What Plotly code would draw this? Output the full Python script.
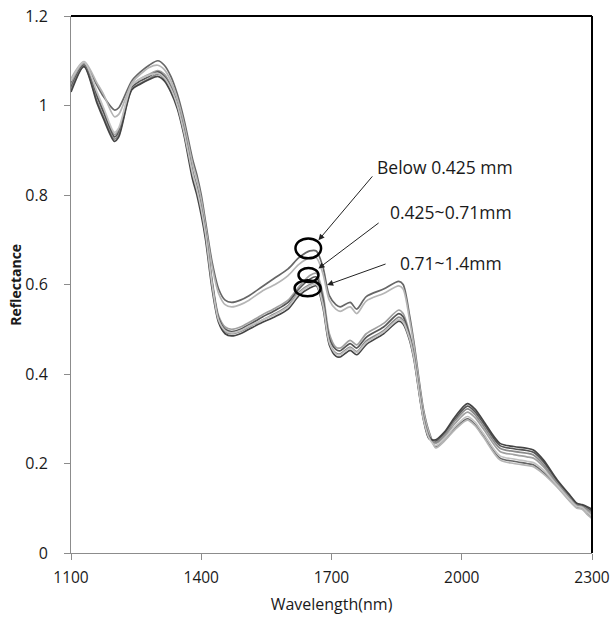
import plotly.graph_objects as go

wavelength = [1100, 1130, 1160, 1175, 1200, 1210, 1240, 1260, 1280, 1300, 1315, 1330, 1345, 1360,
              1380, 1390, 1400, 1410, 1425, 1440, 1455, 1470, 1490, 1510, 1540, 1570, 1600, 1625,
              1650, 1665, 1680, 1695, 1710, 1720, 1743, 1758, 1780, 1820, 1855, 1865, 1880, 1890,
              1912, 1925, 1940, 1960, 1985, 2013, 2030, 2050, 2088, 2120, 2150, 2165, 2188, 2220,
              2250, 2265, 2277, 2290, 2300]

# seven sample spectra
spec_a = [1.050, 1.095, 1.045, 1.020, 0.990, 0.995, 1.055, 1.075, 1.090, 1.100, 1.090, 1.065, 1.025, 0.970,
          0.880, 0.845, 0.800, 0.740, 0.650, 0.590, 0.565, 0.560, 0.565, 0.575, 0.595, 0.615, 0.635, 0.660,
          0.675, 0.675, 0.640, 0.575, 0.555, 0.550, 0.560, 0.545, 0.573, 0.590, 0.607, 0.600, 0.530, 0.470,
          0.320, 0.270, 0.237, 0.252, 0.279, 0.300, 0.288, 0.262, 0.212, 0.205, 0.200, 0.197, 0.180, 0.149,
          0.116, 0.102, 0.100, 0.087, 0.079]
spec_b = [1.060, 1.098, 1.050, 1.025, 0.975, 0.980, 1.050, 1.070, 1.085, 1.090, 1.080, 1.055, 1.015, 0.960,
          0.870, 0.835, 0.790, 0.730, 0.640, 0.580, 0.555, 0.550, 0.555, 0.565, 0.585, 0.600, 0.620, 0.645,
          0.660, 0.660, 0.625, 0.565, 0.545, 0.540, 0.550, 0.535, 0.563, 0.580, 0.597, 0.590, 0.520, 0.462,
          0.315, 0.267, 0.235, 0.250, 0.276, 0.297, 0.285, 0.259, 0.208, 0.200, 0.196, 0.193, 0.177, 0.147,
          0.114, 0.100, 0.098, 0.085, 0.077]
spec_c = [1.045, 1.093, 1.025, 0.990, 0.935, 0.945, 1.045, 1.060, 1.070, 1.078, 1.070, 1.045, 1.005, 0.950,
          0.855, 0.820, 0.775, 0.720, 0.610, 0.530, 0.505, 0.500, 0.505, 0.515, 0.532, 0.547, 0.565, 0.595,
          0.620, 0.625, 0.580, 0.490, 0.460, 0.458, 0.475, 0.465, 0.490, 0.513, 0.543, 0.535, 0.490, 0.445,
          0.305, 0.262, 0.245, 0.260, 0.290, 0.315, 0.303, 0.277, 0.227, 0.220, 0.215, 0.212, 0.193, 0.154,
          0.121, 0.106, 0.104, 0.093, 0.086]
spec_d = [1.040, 1.090, 1.020, 0.985, 0.930, 0.940, 1.040, 1.055, 1.065, 1.075, 1.065, 1.040, 1.000, 0.945,
          0.850, 0.815, 0.770, 0.715, 0.605, 0.525, 0.500, 0.495, 0.500, 0.510, 0.527, 0.542, 0.560, 0.590,
          0.612, 0.617, 0.570, 0.480, 0.455, 0.452, 0.468, 0.458, 0.482, 0.505, 0.535, 0.528, 0.485, 0.440,
          0.302, 0.260, 0.250, 0.267, 0.300, 0.328, 0.316, 0.290, 0.240, 0.233, 0.229, 0.225, 0.204, 0.160,
          0.126, 0.110, 0.107, 0.100, 0.094]
spec_e = [1.035, 1.088, 1.010, 0.975, 0.925, 0.935, 1.037, 1.050, 1.060, 1.070, 1.060, 1.035, 0.997, 0.940,
          0.845, 0.810, 0.765, 0.710, 0.600, 0.520, 0.495, 0.490, 0.495, 0.505, 0.520, 0.535, 0.553, 0.583,
          0.600, 0.605, 0.560, 0.470, 0.447, 0.445, 0.460, 0.450, 0.474, 0.497, 0.527, 0.520, 0.480, 0.437,
          0.300, 0.257, 0.247, 0.264, 0.296, 0.322, 0.310, 0.284, 0.234, 0.227, 0.223, 0.219, 0.198, 0.157,
          0.124, 0.108, 0.106, 0.097, 0.090]
spec_f = [1.030, 1.087, 1.005, 0.970, 0.920, 0.930, 1.035, 1.048, 1.058, 1.065, 1.055, 1.030, 0.993, 0.935,
          0.835, 0.800, 0.755, 0.700, 0.590, 0.515, 0.490, 0.485, 0.490, 0.500, 0.515, 0.528, 0.545, 0.575,
          0.592, 0.597, 0.550, 0.465, 0.440, 0.438, 0.453, 0.443, 0.466, 0.490, 0.518, 0.512, 0.475, 0.432,
          0.297, 0.255, 0.253, 0.270, 0.305, 0.334, 0.322, 0.295, 0.245, 0.238, 0.234, 0.230, 0.208, 0.163,
          0.128, 0.111, 0.108, 0.103, 0.098]
spec_g = [1.055, 1.097, 1.030, 0.995, 0.940, 0.950, 1.045, 1.060, 1.068, 1.072, 1.062, 1.038, 1.000, 0.942,
          0.848, 0.812, 0.768, 0.712, 0.600, 0.520, 0.497, 0.492, 0.497, 0.507, 0.520, 0.533, 0.550, 0.580,
          0.597, 0.600, 0.555, 0.470, 0.445, 0.443, 0.458, 0.448, 0.470, 0.494, 0.522, 0.516, 0.478, 0.435,
          0.298, 0.256, 0.240, 0.255, 0.283, 0.305, 0.293, 0.267, 0.217, 0.210, 0.205, 0.202, 0.185, 0.151,
          0.118, 0.104, 0.102, 0.090, 0.082]

spectra = [spec_a, spec_b, spec_c, spec_d, spec_e, spec_f, spec_g]
colors = ["#666666", "#b5b5b5", "#a0a0a0", "#555555", "#8a8a8a", "#444444", "#c2c2c2"]

x_ticks = [1100, 1400, 1700, 2000, 2300]
y_ticks = [0, 0.2, 0.4, 0.6, 0.8, 1.0, 1.2]
y_tick_text = ["0", "0.2", "0.4", "0.6", "0.8", "1", "1.2"]

labels = ["Below 0.425 mm", "0.425~0.71mm", "0.71~1.4mm"]
label_pos = [(1800, 0.863), (1831, 0.763), (1854, 0.648)]
arrow_head = [(1670, 0.699), (1670, 0.636), (1690, 0.599)]
arrow_tail = [(1797, 0.845), (1812, 0.740), (1828, 0.647)]
ellipses = [(1617, 1676, 0.6585, 0.703), (1624, 1670, 0.6056, 0.6369), (1615, 1675, 0.5736, 0.6094)]

fig = go.Figure()
for s, c in zip(spectra, colors):
    fig.add_trace(go.Scatter(x=wavelength, y=s, mode="lines",
                             line=dict(color=c, width=1.7, shape="spline", smoothing=0.8),
                             showlegend=False, hoverinfo="skip"))

font_family = "Open Sans, Noto Sans, sans-serif"
txt_color = "#1a1a1a"

for (x0, x1, y0, y1) in ellipses:
    fig.add_shape(type="circle", xref="x", yref="y", x0=x0, x1=x1, y0=y0, y1=y1,
                  line=dict(color="black", width=2.5))

for (hx, hy), (tx, ty) in zip(arrow_head, arrow_tail):
    fig.add_annotation(x=hx, y=hy, ax=tx, ay=ty, xref="x", yref="y", axref="x", ayref="y",
                       text="", showarrow=True, arrowhead=2, arrowsize=1.2, arrowwidth=1,
                       arrowcolor="#222222")

for t, (lx, ly) in zip(labels, label_pos):
    fig.add_annotation(x=lx, y=ly, xref="x", yref="y", text=t, showarrow=False,
                       xanchor="left", yanchor="middle",
                       font=dict(family=font_family, size=17.5, color=txt_color))

# y-axis title placed as rotated text
fig.add_annotation(x=-0.107, y=0.5, xref="paper", yref="paper", text="<b>Reflectance</b>",
                   showarrow=False, textangle=-90, xanchor="center", yanchor="middle",
                   font=dict(family=font_family, size=14, color=txt_color))

# frame: top and right in black
fig.add_shape(type="line", xref="paper", yref="paper", x0=0, x1=1, y0=1, y1=1,
              line=dict(color="black", width=2))
fig.add_shape(type="line", xref="paper", yref="paper", x0=1, x1=1, y0=0, y1=1,
              line=dict(color="black", width=2))

fig.update_layout(
    width=611, height=623,
    margin=dict(l=71, r=19, t=16, b=70, autoexpand=False),
    paper_bgcolor="white", plot_bgcolor="white",
    font=dict(family=font_family, color=txt_color),
    xaxis=dict(range=[1100, 2300], tickvals=x_ticks, showgrid=False, zeroline=False,
               showline=True, linecolor="#8c8c8c", linewidth=1, automargin=False,
               ticks="outside", ticklen=6, tickcolor="#8c8c8c", ticklabelstandoff=4,
               ticklabeloverflow="allow",
               tickfont=dict(size=15.5, color=txt_color),
               title=dict(text="Wavelength(nm)", font=dict(size=16, color=txt_color), standoff=12)),
    yaxis=dict(range=[0, 1.2], tickvals=y_ticks, ticktext=y_tick_text, showgrid=False,
               zeroline=False, showline=True, linecolor="#8c8c8c", linewidth=1, automargin=False,
               ticks="outside", ticklen=6, tickcolor="#8c8c8c", ticklabelstandoff=13,
               ticklabeloverflow="allow",
               tickfont=dict(size=16, color=txt_color)),
)

fig.write_html("out.html", config={"displayModeBar": False},
               post_script="document.body.style.margin='0';"
                           "document.documentElement.style.overflow='hidden';")
